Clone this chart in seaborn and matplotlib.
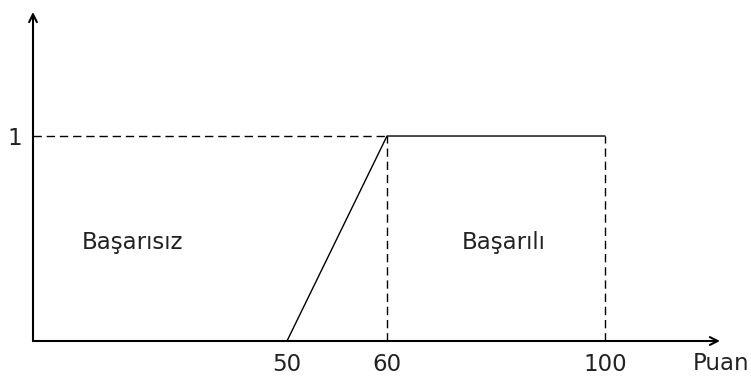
import numpy as np
import pandas as pd
import matplotlib
matplotlib.use("Agg")
import matplotlib.pyplot as plt
import seaborn as sns

# üyelik fonksiyonu (Başarılı)
puan = [50, 60, 100]
uyelik = [0, 1, 1]
x_ticks = [50, 60, 100]
x_tick_labels = ["50", "60", "100"]
y_ticks = [1]
y_tick_labels = ["1"]
etiketler = ["Başarısız", "Başarılı"]
etiket_x = [9.6, 73.8]
etiket_y = [0.48, 0.48]

df = pd.DataFrame({"Puan": puan, "Uyelik": uyelik})

sns.set_theme(style="white")
plt.rcParams["font.family"] = ["DejaVu Sans"]

# eksen şematik: parçalı doğrusal ölçek
knot_val = [0, 50, 60, 100, 120]
knot_px = [0, 254, 354, 572, 687]
def fwd(v):
    return np.interp(v, knot_val, knot_px)
def inv(p):
    return np.interp(p, knot_px, knot_val)

W, H = 751, 383
fs = 16.5
fig = plt.figure(figsize=(W / 100, H / 100), dpi=100)
ax = fig.add_axes([33 / W, (H - 341) / H, (720 - 33) / W, (341 - 12) / H])
ax.set_xscale("function", functions=(fwd, inv))
ax.set_xlim(0, 120)
ax.set_ylim(0, 1.605)

sns.lineplot(data=df, x="Puan", y="Uyelik", ax=ax, color="black", lw=1.0, clip_on=False)

dash = (6, 3.5)
ax.plot([0, puan[1]], [uyelik[1], uyelik[1]], color="black", lw=1.0, dashes=dash)
for xv in [puan[1], puan[2]]:
    ax.plot([xv, xv], [0, 1], color="black", lw=1.0, dashes=dash)

# eksenler, oklu
for s in ax.spines.values():
    s.set_visible(False)
ax.annotate("", xy=(120, 0), xytext=(0, 0), annotation_clip=False,
            arrowprops=dict(arrowstyle="->", color="black", lw=1.5, shrinkA=0, shrinkB=0,
                            mutation_scale=14))
ax.annotate("", xy=(0, 1.605), xytext=(0, 0), annotation_clip=False,
            arrowprops=dict(arrowstyle="->", color="black", lw=1.5, shrinkA=0, shrinkB=0,
                            mutation_scale=14))

ax.set_xticks(x_ticks)
ax.set_xticklabels(x_tick_labels, fontsize=fs, color="#222222")
ax.set_yticks(y_ticks)
ax.set_yticklabels(y_tick_labels, fontsize=fs, color="#222222")
ax.tick_params(axis="x", length=0, pad=8.5)
ax.tick_params(axis="y", length=0, pad=8)
ax.set_xlabel("")
ax.set_ylabel("")
fig.text(721 / W, 1 - 364 / H, "Puan", fontsize=fs, color="#222222", ha="center", va="center")

for t, xv, yv in zip(etiketler, etiket_x, etiket_y):
    ax.text(xv, yv, t, fontsize=fs, color="#222222", ha="left", va="center")

fig.savefig("out.png", dpi=100)
